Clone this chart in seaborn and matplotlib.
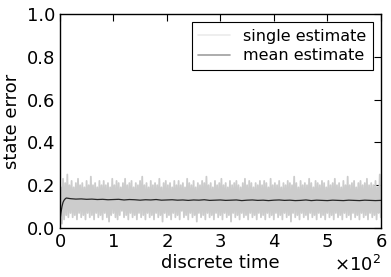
import numpy as np
import pandas as pd
import matplotlib
matplotlib.use('Agg')
import matplotlib.pyplot as plt
from matplotlib.lines import Line2D
import seaborn as sns

single_t = list(range(0, 602, 2))
single_err = [
    0.00, 0.19, 0.02, 0.23, 0.04, 0.21, 0.06, 0.25, 0.05, 0.20,
    0.07, 0.22, 0.05, 0.19, 0.06, 0.21, 0.04, 0.23, 0.07, 0.20,
    0.05, 0.21, 0.06, 0.19, 0.04, 0.22, 0.07, 0.20, 0.05, 0.24,
    0.06, 0.20, 0.04, 0.21, 0.07, 0.19, 0.05, 0.22, 0.06, 0.20,
    0.04, 0.22, 0.07, 0.20, 0.05, 0.21, 0.03, 0.19, 0.06, 0.23,
    0.07, 0.20, 0.05, 0.22, 0.04, 0.21, 0.06, 0.19, 0.08, 0.21,
    0.05, 0.23, 0.06, 0.20, 0.04, 0.21, 0.07, 0.22, 0.05, 0.19,
    0.06, 0.21, 0.04, 0.20, 0.07, 0.22, 0.05, 0.24, 0.06, 0.20,
    0.04, 0.21, 0.07, 0.19, 0.05, 0.22, 0.06, 0.20, 0.04, 0.21,
    0.07, 0.20, 0.05, 0.23, 0.06, 0.19, 0.03, 0.21, 0.07, 0.22,
    0.05, 0.20, 0.06, 0.21, 0.04, 0.19, 0.07, 0.22, 0.05, 0.20,
    0.06, 0.22, 0.04, 0.20, 0.08, 0.21, 0.05, 0.19, 0.06, 0.23,
    0.04, 0.21, 0.07, 0.20, 0.05, 0.22, 0.06, 0.19, 0.03, 0.21,
    0.07, 0.20, 0.05, 0.22, 0.06, 0.21, 0.04, 0.24, 0.07, 0.20,
    0.05, 0.21, 0.06, 0.19, 0.04, 0.22, 0.07, 0.20, 0.05, 0.21,
    0.06, 0.23, 0.04, 0.20, 0.07, 0.21, 0.05, 0.19, 0.06, 0.22,
    0.03, 0.20, 0.07, 0.21, 0.05, 0.22, 0.06, 0.20, 0.04, 0.19,
    0.07, 0.21, 0.05, 0.23, 0.06, 0.20, 0.04, 0.22, 0.07, 0.21,
    0.05, 0.19, 0.06, 0.21, 0.04, 0.20, 0.07, 0.22, 0.05, 0.20,
    0.06, 0.22, 0.04, 0.21, 0.07, 0.19, 0.05, 0.23, 0.06, 0.20,
    0.04, 0.21, 0.07, 0.20, 0.05, 0.22, 0.06, 0.19, 0.04, 0.21,
    0.07, 0.20, 0.05, 0.22, 0.06, 0.21, 0.03, 0.20, 0.07, 0.24,
    0.05, 0.21, 0.06, 0.19, 0.04, 0.22, 0.07, 0.20, 0.05, 0.21,
    0.06, 0.20, 0.04, 0.23, 0.07, 0.21, 0.05, 0.19, 0.06, 0.22,
    0.04, 0.21, 0.07, 0.20, 0.05, 0.22, 0.06, 0.21, 0.04, 0.19,
    0.07, 0.22, 0.05, 0.20, 0.06, 0.21, 0.04, 0.23, 0.07, 0.20,
    0.05, 0.21, 0.06, 0.19, 0.04, 0.22, 0.07, 0.20, 0.05, 0.24,
    0.06, 0.20, 0.04, 0.21, 0.07, 0.22, 0.05, 0.19, 0.06, 0.21,
    0.04, 0.22, 0.07, 0.20, 0.05, 0.21, 0.06, 0.23, 0.04, 0.20,
    0.07, 0.21, 0.05, 0.20, 0.06, 0.22, 0.04, 0.19, 0.07, 0.25,
    0.05,
]

# mean estimate over many runs
mean_t = [0, 2, 4, 6, 8, 10, 12, 15, 20, 30, 40, 50, 60, 70, 80, 90, 100,
          110, 120, 130, 140, 150, 160, 170, 180, 190, 200, 210, 220, 230,
          240, 250, 260, 270, 280, 290, 300, 310, 320, 330, 340, 350, 360,
          370, 380, 390, 400, 410, 420, 430, 440, 450, 460, 470, 480, 490,
          500, 510, 520, 530, 540, 550, 560, 570, 580, 590, 600]
mean_err = [0.03, 0.07, 0.10, 0.12, 0.13, 0.136, 0.140, 0.139, 0.137, 0.135,
            0.136, 0.134, 0.135, 0.133, 0.134, 0.132, 0.133, 0.134, 0.131,
            0.133, 0.132, 0.130, 0.132, 0.131, 0.133, 0.130, 0.131, 0.132,
            0.130, 0.131, 0.129, 0.131, 0.130, 0.132, 0.129, 0.130, 0.131,
            0.129, 0.130, 0.131, 0.128, 0.130, 0.131, 0.129, 0.130, 0.128,
            0.130, 0.131, 0.129, 0.130, 0.128, 0.129, 0.131, 0.128, 0.130,
            0.129, 0.128, 0.130, 0.129, 0.128, 0.130, 0.129, 0.128, 0.130,
            0.129, 0.128, 0.129]

df_single = pd.DataFrame({'t': single_t, 'err': single_err})
df_mean = pd.DataFrame({'t': mean_t, 'err': mean_err})

sns.set_style('white')
plt.rcParams['font.family'] = ['DejaVu Sans']
plt.rcParams['text.color'] = 'black'
plt.rcParams['axes.labelcolor'] = 'black'

fig = plt.figure(figsize=(3.91, 2.77), dpi=100)
ax = fig.add_axes([0.153, 0.177, 0.821, 0.772])

sns.lineplot(data=df_single, x='t', y='err', color='0.8', linewidth=1.3, ax=ax)
sns.lineplot(data=df_mean, x='t', y='err', color='0.15', linewidth=0.9, ax=ax)

ax.set_xlim(0, 600)
ax.set_ylim(0, 1.0)
ax.set_xticks([0, 100, 200, 300, 400, 500, 600])
ax.set_yticks([0.0, 0.2, 0.4, 0.6, 0.8, 1.0])
ax.ticklabel_format(axis='x', style='sci', scilimits=(2, 2), useMathText=True)
ax.xaxis.get_offset_text().set_fontsize(13)
ax.xaxis.get_offset_text().set_color('black')
ax.tick_params(direction='in', top=True, right=True, length=5, width=0.8,
               labelsize=13, colors='black')
for s in ax.spines.values():
    s.set_color('black')
    s.set_linewidth(1.0)

ax.set_xlabel('discrete time', fontsize=13, labelpad=2)
ax.set_ylabel('state error', fontsize=13, labelpad=4)

handles = [Line2D([], [], color='0.92', linewidth=1.2),
           Line2D([], [], color='0.62', linewidth=1.2)]
leg = ax.legend(handles, ['single estimate', 'mean estimate'], loc='upper right',
                fontsize=11.5, fancybox=False, framealpha=1, edgecolor='black',
                handlelength=2.0, borderaxespad=0.5, labelspacing=0.3)
leg.get_frame().set_linewidth(0.8)

fig.savefig('out.png', dpi=100)
